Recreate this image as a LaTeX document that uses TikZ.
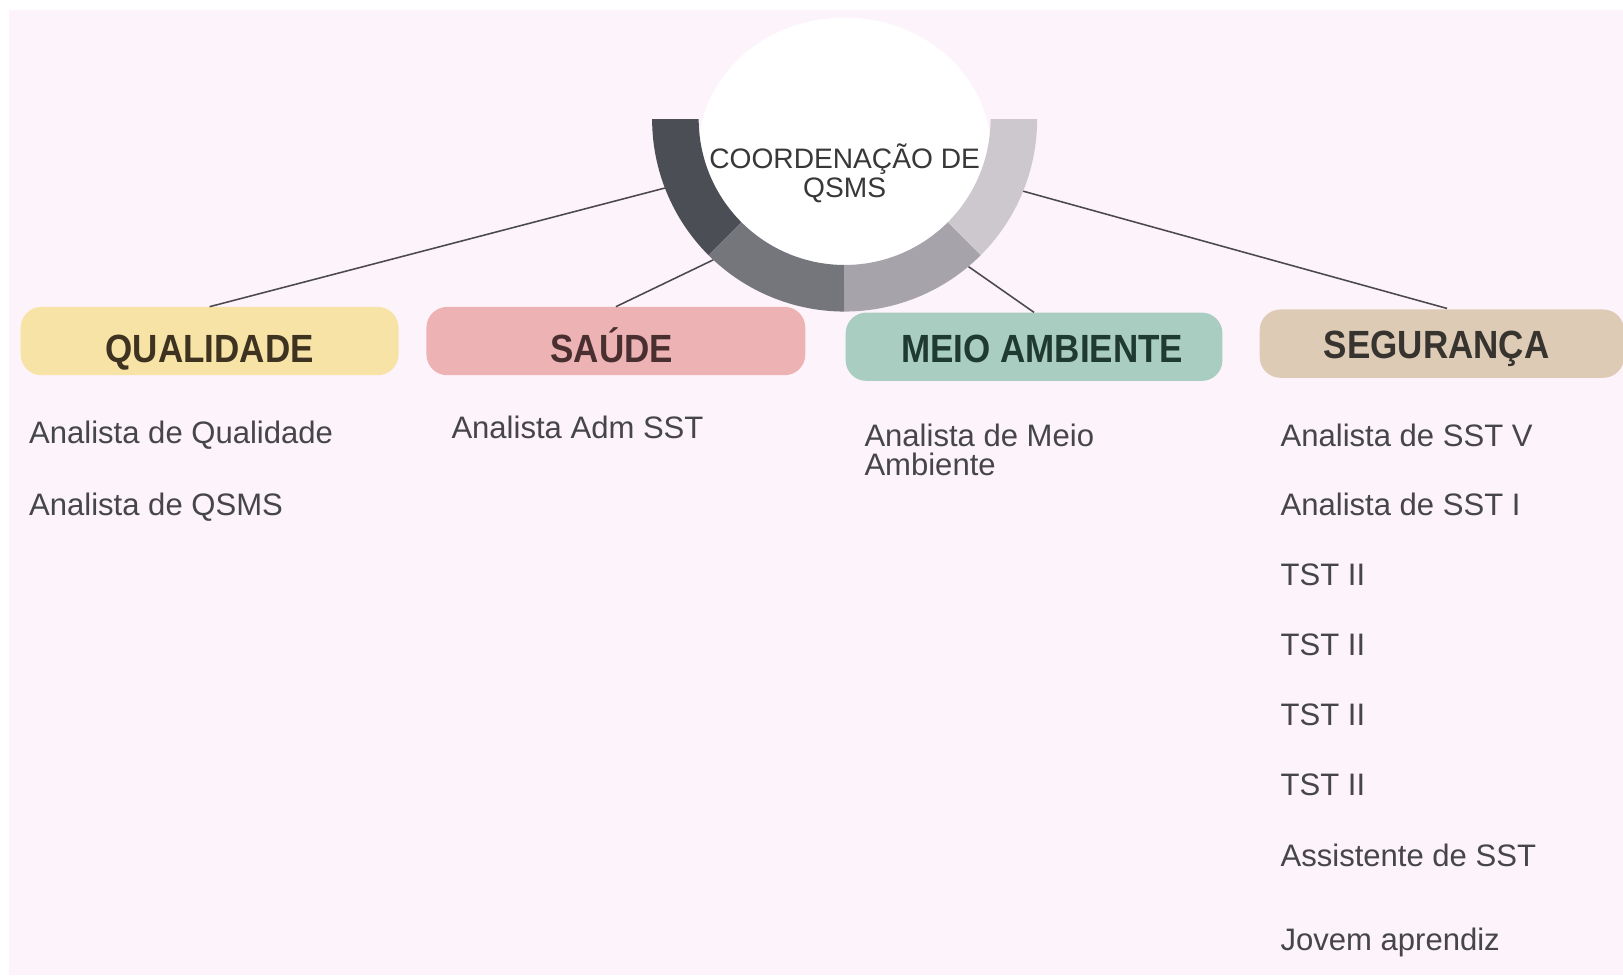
\documentclass[tikz,border=0pt]{standalone}
\usepackage{fontspec}
\setmainfont{Liberation Sans}
\usepackage{graphicx}
\usetikzlibrary{calc}
\definecolor{bgpink}{HTML}{FDF3FA}
\definecolor{ringA}{HTML}{4B4E54}
\definecolor{ringB}{HTML}{75767C}
\definecolor{ringC}{HTML}{A6A4AA}
\definecolor{ringD}{HTML}{CCC8CE}
\definecolor{qualfill}{HTML}{F8E3A7}
\definecolor{saudefill}{HTML}{EDB2B3}
\definecolor{meiofill}{HTML}{A9CDC1}
\definecolor{segfill}{HTML}{DDCBB6}
\definecolor{qualtext}{HTML}{3E3320}
\definecolor{saudetext}{HTML}{4A2F31}
\definecolor{meiotext}{HTML}{1F3A31}
\definecolor{segtext}{HTML}{37332F}
\definecolor{bodytext}{HTML}{45454A}
\definecolor{linkcol}{HTML}{4A4A4E}
\tikzset{
  headbox/.style={rounded corners=20pt, minimum height=66pt, inner sep=0pt},
  headtxt/.style={font=\fontsize{38}{40}\selectfont\bfseries, anchor=base, inner sep=0pt},
  item/.style={anchor=base west, inner sep=0pt, text=bodytext, font=\fontsize{30}{28}\selectfont, align=left},
  link/.style={draw=linkcol, line width=1.5pt}
}
\newcommand{\hdr}[1]{\scalebox{0.89}[1]{#1}}
\begin{document}
\begin{tikzpicture}[x=1pt,y=1pt]
\useasboundingbox (0,0) rectangle (1568,-942);
\fill[white] (0,0) rectangle (1568,-942);
\fill[bgpink] (9,-10) rectangle (1568,-942);

\coordinate (c) at (816,-115);
% connector start points on ring
\coordinate (r1) at ($(c)+(201:186)$);
\coordinate (r2) at ($(c)+(227:186)$);
\coordinate (r3) at ($(c)+(310:186)$);
\coordinate (r4) at ($(c)+(338:186)$);

% header boxes
\node[headbox, fill=qualfill, minimum width=365pt] (qual) at (202.5,-329.5) {};
\node[headtxt, text=qualtext] (qualt) at (202.5,-350) {\hdr{QUALIDADE}};
\node[headbox, fill=saudefill, minimum width=366pt] (saude) at (595,-329.5) {};
\node[headtxt, text=saudetext] (saudet) at (591,-350) {\hdr{SAÚDE}};
\node[headbox, fill=meiofill, minimum width=364pt] (meio) at (999,-335) {};
\node[headtxt, text=meiotext] (meiot) at (1007,-350) {\hdr{MEIO AMBIENTE}};
\node[headbox, fill=segfill, minimum width=352pt] (seg) at (1393,-332) {};
\node[headtxt, text=segtext] (segt) at (1388,-346) {\hdr{SEGURANÇA}};
\coordinate (segtop) at (1398,-298);

% connectors
\draw[link] (r1) -- (qual.north);
\draw[link] (r2) -- (saude.north);
\draw[link] (r3) -- (meio.north);
\draw[link] (r4) -- (segtop);

% central circle
\fill[white] (816,-145) ellipse [x radius=141, y radius=128];
\foreach \a/\b/\col in {180/225/ringA, 225/270/ringB, 270/315/ringC, 315/360/ringD}{
  \fill[\col] ($(c)+(\a:186)$) arc[start angle=\a, end angle=\b, radius=186]
     -- ($(c)+(\b:141)$) arc[start angle=\b, end angle=\a, radius=141] -- cycle;
}
\node[inner sep=0pt, align=center, text=black!78, font=\fontsize{27.2}{28}\selectfont, anchor=base] (coord) at (816,-191) {COORDENAÇÃO DE\\QSMS};

% items
\node[item] (q1) at (28,-428) {Analista de Qualidade};
\node[item] (q2) at (28,-498) {Analista de QSMS};
\node[item] (s1) at (436,-424) {Analista Adm SST};
\node[item] (m1) at (835,-459) {Analista de Meio\\Ambiente};
\node[item] (g1) at (1237,-431) {Analista de SST V};
\node[item] (g2) at (1237,-498) {Analista de SST I};
\node[item] (g3) at (1237,-566) {TST II};
\node[item] (g4) at (1237,-633) {TST II};
\node[item] (g5) at (1237,-701) {TST II};
\node[item] (g6) at (1237,-769) {TST II};
\node[item] (g7) at (1237,-837) {Assistente de SST};
\node[item] (g8) at (1237,-918) {Jovem aprendiz};
\end{tikzpicture}
\end{document}
